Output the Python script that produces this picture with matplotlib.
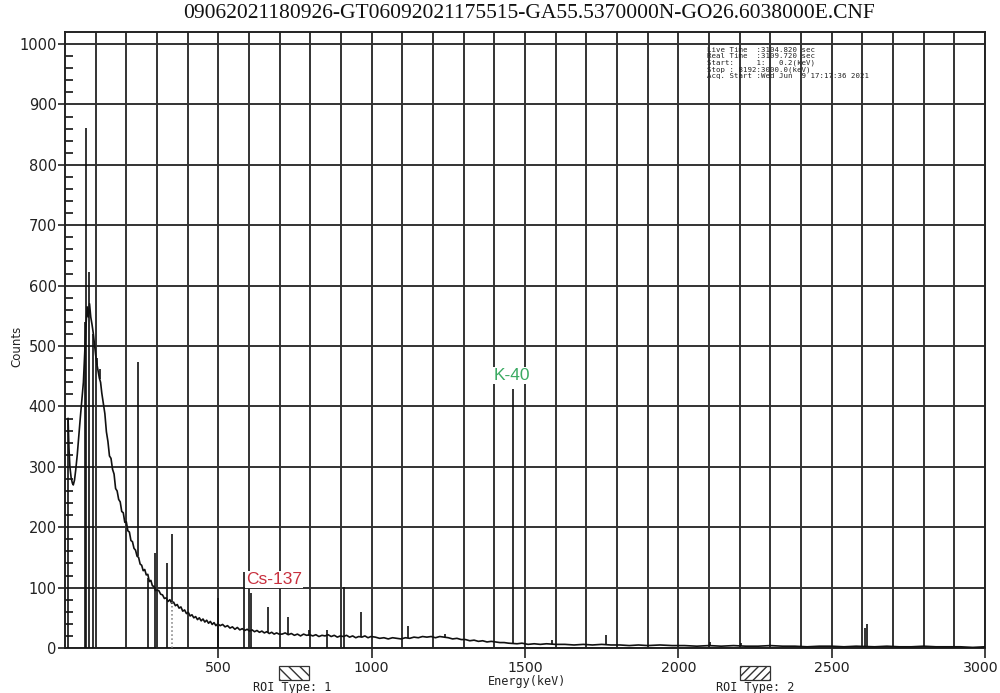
"""Gamma spectrum of a soil sample: counts against energy, with the K-40 and Cs-137 lines marked."""
import numpy as np
import matplotlib
matplotlib.use("Agg")
import matplotlib.pyplot as plt
from matplotlib.patches import Rectangle
from matplotlib.transforms import ScaledTranslation

TITLE = "09062021180926-GT06092021175515-GA55.5370000N-GO26.6038000E.CNF"
INFO = ("Live Time  :3104.820 sec\n"
        "Real Time  :3109.720 sec\n"
        "Start:     1:   0.2(keV)\n"
        "Stop : 8192:3000.0(keV)\n"
        "Acq. Start :Wed Jun  9 17:17:36 2021")

# continuum, keV and counts, one segment per line
CONT_KEV = [10, 13, 16, 20, 24, 27, 31, 35, 40, 45, 50, 55, 60, 64, 68, 72, 76, 80, 84, 88, 92, 96, 100, 104, 108, 112, 116, 120,
            125, 130, 135, 140, 145, 150, 155, 160, 165, 170, 175, 180, 185, 190, 195, 200, 205, 210, 215, 220, 225, 230, 235, 240, 245, 250, 255, 260, 265, 270, 275, 280, 285, 290, 295, 300,
            306, 312, 318, 324, 330, 336, 342, 348, 354, 360, 366, 372, 378, 384, 390, 396, 402, 408, 414, 420, 426, 432, 438, 444, 450, 456, 462, 468, 474, 480, 486, 492, 498,
            506, 514, 522, 530, 538, 546, 554, 562, 570, 578, 586, 594, 602, 610, 618, 626, 634, 642, 650, 658, 666, 674, 682, 690, 698,
            708, 718, 728, 738, 748, 758, 768, 778, 788, 798, 808, 818, 828, 838, 848, 858, 868, 878, 888, 898, 908, 918, 928, 938, 948, 958, 968, 978, 988, 998,
            1012, 1026, 1040, 1054, 1068, 1082, 1096, 1110, 1124, 1138, 1152, 1166, 1180, 1194, 1208, 1222, 1236, 1250, 1264, 1278, 1292, 1306, 1320, 1334, 1348, 1362, 1376, 1390, 1404, 1418, 1432, 1446,
            1474, 1490, 1510, 1530, 1550, 1570, 1600, 1630, 1660, 1690, 1720, 1750, 1780, 1810, 1840, 1870, 1900, 1940, 1980,
            2020, 2060, 2100, 2140, 2180, 2220, 2260, 2300, 2340, 2380, 2420, 2460, 2500, 2540, 2580,
            2640, 2680, 2720, 2760, 2800, 2840, 2880, 2920, 2960, 3000]
CONT_COUNTS = [380, 330, 300, 282, 273, 270, 278, 295, 320, 352, 382, 412, 440, 485, 530, 565, 548, 570, 548, 536, 522, 503, 485, 470, 458, 447, 440, 422,
               405, 388, 358, 342, 318, 314, 296, 288, 264, 260, 246, 242, 226, 224, 208, 209, 194, 192, 178, 176, 165, 162, 152, 150, 139, 137, 128, 130, 121, 122, 110, 112, 103, 102, 95, 96,
               95, 89, 88, 82, 83, 77, 80, 74, 76, 70, 72, 66, 68, 61, 63, 57, 59, 53, 55, 50, 52, 47, 50, 45, 48, 43, 46, 41, 44, 39, 42, 37, 40,
               37, 39, 35, 37, 33, 35, 31, 34, 30, 32, 29, 31, 28, 30, 27, 29, 26, 28, 25, 27, 24, 26, 23, 25, 23,
               23, 25, 22, 24, 21, 23, 20, 23, 21, 22, 20, 22, 19, 21, 20, 22, 19, 21, 18, 20, 19, 21, 18, 20, 17, 19, 18, 20, 17, 19,
               18, 16, 17, 15, 17, 16, 15, 17, 16, 18, 17, 19, 18, 19, 17, 19, 18, 17, 15, 16, 14, 14, 12, 13, 11, 12, 10, 11, 10, 9, 9, 8,
               7, 8, 6, 7, 6, 7, 6, 6, 5, 6, 5, 6, 5, 5, 4, 5, 4, 5, 4,
               4, 3, 4, 3, 4, 3, 3, 4, 3, 3, 2, 3, 3, 2, 3,
               2, 3, 2, 2, 3, 2, 2, 2, 1, 2]

# narrow lines: energy, top and where the drawn stroke starts
SPIKE_KEV = [10, 66, 68, 77, 92, 104, 113, 238, 270, 295, 334, 350, 500, 583, 605, 662, 727, 795, 853, 911, 965, 1120, 1238, 1460, 1588, 1764, 2103, 2204, 2610, 2614]
SPIKE_TOP = [381, 540, 861, 622, 520, 480, 462, 474, 116, 157, 140, 188, 83, 126, 91, 68, 51, 30, 30, 101, 60, 36, 24, 429, 13, 21, 10, 8, 33, 40]
SPIKE_BASE = [0, 0, 0, 0, 0, 468, 446, 152, 0, 0, 0, 76, 0, 0, 0, 25, 22, 20, 0, 0, 19, 16, 17, 8, 6, 5, 4, 3, 2, 2]
DOTTED_KEV = [350]
DOTTED_TOP = [76]

MARKS = [("Cs-137", 681, 113, "#c8303e"), ("K-40", 1456, 451, "#3aaa62")]

assert len(CONT_KEV) == len(CONT_COUNTS)
assert len(SPIKE_KEV) == len(SPIKE_TOP) == len(SPIKE_BASE)

fig = plt.figure(figsize=(10, 6.93), dpi=100)
ax = fig.add_axes([0.065, 1 - 648/693, 0.92, (648 - 32)/693])

ax.plot(CONT_KEV, CONT_COUNTS, color="#111111", lw=1.2, zorder=3)
ax.vlines(SPIKE_KEV, SPIKE_BASE, SPIKE_TOP, color="#111111", lw=1.2, zorder=3)
ax.vlines(DOTTED_KEV, 0, DOTTED_TOP, color="#777777", lw=1.1, linestyles=":", zorder=3)

ax.set_xlim(0, 3000)
ax.set_ylim(0, 1020)
ax.set_xticks(np.arange(500, 3001, 500))
ax.set_xticks(np.arange(100, 3000, 100), minor=True)
ax.set_yticks(np.arange(0, 1001, 100))
ax.set_yticks(np.arange(0, 1001, 20), minor=True)
ax.grid(which="major", axis="y", color="#333333", lw=1.4, zorder=1)
ax.grid(which="both", axis="x", color="#333333", lw=1.4, zorder=1)
ax.tick_params(axis="y", which="major", direction="out", length=5, width=1.2,
               labelsize=10.5, colors="#222222", pad=1)
ax.tick_params(axis="y", which="minor", direction="in", length=6, width=1.1)
ax.tick_params(axis="x", which="major", direction="out", length=7, width=1.2,
               labelsize=10.2, colors="#222222", pad=2)
ax.tick_params(axis="x", which="minor", length=0)
for spine in ax.spines.values():
    spine.set_linewidth(1.4)
    spine.set_color("#222222")
# the last energy label sits on the figure edge, nudge it inside
last = ax.get_xticklabels()[-1]
last.set_transform(last.get_transform() + ScaledTranslation(-4/100, 0, fig.dpi_scale_trans))

for name, kev, counts, colour in MARKS:
    ax.text(kev, counts, name, color=colour, fontsize=12.5, ha="center",
            va="center", zorder=5, family="Liberation Sans",
            bbox=dict(facecolor="white", edgecolor="none", pad=0.6))

fig.text(0.529, 1 - 14/693, TITLE, ha="center", va="center", fontsize=15.5,
         family="Liberation Serif", color="#111111")
fig.text(0.707, 1 - 47/693, INFO, ha="left", va="top", fontsize=5.3,
         family="DejaVu Sans Mono", linespacing=1.05, color="#222222")
fig.text(17/1000, 1 - 346/693, "Counts", rotation=90, ha="center", va="center",
         fontsize=8.5, color="#222222")
fig.text(527/1000, 1 - 681/693, "Energy(keV)", ha="center", va="center",
         fontsize=8.5, family="DejaVu Sans Mono", color="#222222")

for x0, text, hatch, cx in ((279, "ROI Type: 1", "\\\\\\", 292),
                            (740, "ROI Type: 2", "////", 755)):
    fig.patches.append(Rectangle((x0/1000, 1 - 680/693), 30/1000, 14/693,
                                 transform=fig.transFigure, facecolor="white",
                                 edgecolor="#333333", hatch=hatch, lw=0.9))
    fig.text(cx/1000, 1 - 688/693, text, ha="center", va="center",
             fontsize=8.5, family="DejaVu Sans Mono", color="#222222")

fig.savefig("out.png", dpi=100)
